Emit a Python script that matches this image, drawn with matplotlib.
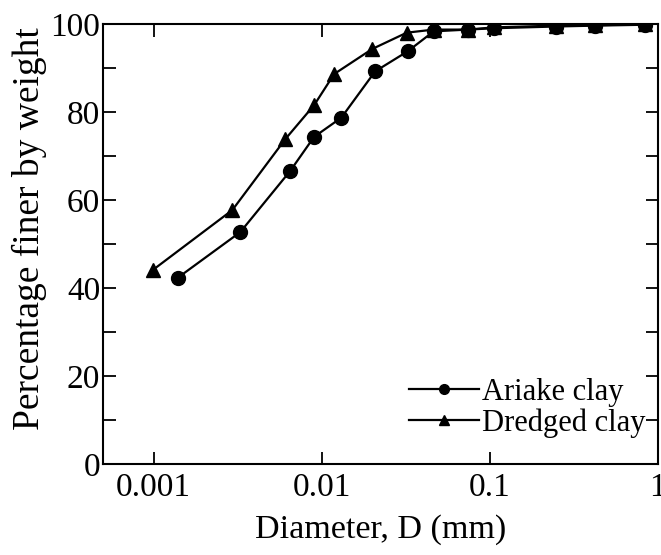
"""
Particle size distribution - Ariake clay vs dredged clay
"""

import matplotlib
matplotlib.use('Agg')
import matplotlib.pyplot as plt
from matplotlib.ticker import FixedLocator, MultipleLocator

# Data
ariake_d = [0.00139, 0.00328, 0.0065, 0.0090, 0.0131, 0.0208, 0.0326,
            0.0464, 0.074, 0.1056, 0.247, 0.425, 0.843]
ariake_pct = [42.3, 52.7, 66.6, 74.3, 78.7, 89.2, 93.8,
              98.3, 98.7, 99.0, 99.4, 99.6, 99.8]

dredged_d = [0.00099, 0.00294, 0.00607, 0.00904, 0.01186, 0.0200, 0.0321,
             0.0464, 0.074, 0.1056, 0.247, 0.425, 0.843]
dredged_pct = [44.1, 57.7, 73.8, 81.6, 88.6, 94.3, 98.0,
               98.7, 98.7, 99.2, 99.6, 99.7, 99.9]

x_ticks = [0.001, 0.01, 0.1, 1]
x_tick_labels = ['0.001', '0.01', '0.1', '1']

plt.rcParams['font.family'] = ['Liberation Serif', 'DejaVu Serif']

fig = plt.figure(figsize=(6.61, 5.55), dpi=100)
ax = fig.add_axes([0.156, 0.164, 0.839, 0.793])

ax.plot(ariake_d, ariake_pct, color='black', lw=1.6, marker='o',
        markersize=10, label='Ariake clay')
ax.plot(dredged_d, dredged_pct, color='black', lw=1.6, marker='^',
        markersize=10, label='Dredged clay')

ax.set_xscale('log')
ax.set_xlim(0.0005, 1)
ax.set_ylim(0, 100)

ax.xaxis.set_major_locator(FixedLocator(x_ticks))
ax.set_xticklabels(x_tick_labels)
ax.xaxis.set_minor_locator(FixedLocator([]))
ax.yaxis.set_major_locator(MultipleLocator(20))
ax.yaxis.set_minor_locator(MultipleLocator(10))

ax.tick_params(which='both', direction='in', top=True, right=True,
               length=9, width=1.3, labelsize=24)
ax.tick_params(axis='y', pad=2)
ax.tick_params(axis='x', pad=6)
for s in ax.spines.values():
    s.set_linewidth(1.5)

ax.set_xlabel('Diameter, D (mm)', fontsize=24.5)
ax.set_ylabel('Percentage finer by weight', fontsize=27)
ax.xaxis.set_label_coords(0.5, -0.115)
ax.yaxis.set_label_coords(-0.101, 0.534)

# legend sits low in the bottom-right corner, no frame
leg = ax.legend(loc='lower right', frameon=False, fontsize=22,
                markerscale=0.7, handlelength=2.3, handletextpad=0.1,
                labelspacing=0.05, borderaxespad=0.0,
                bbox_to_anchor=(1.0, 0.031))

fig.savefig('out.png', dpi=100)
